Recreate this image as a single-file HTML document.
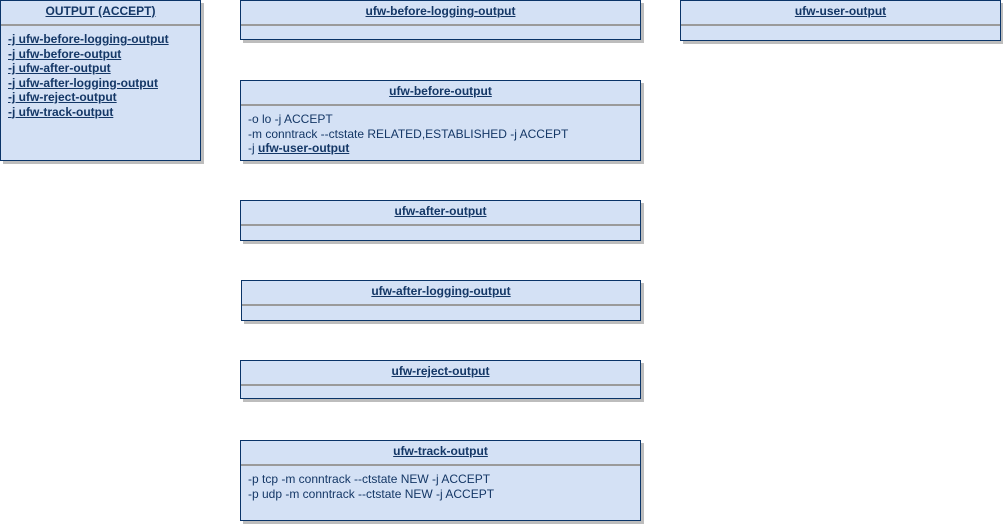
<!DOCTYPE html>
<html><head><meta charset="utf-8"><style>
html,body{margin:0;padding:0;background:#fff;}
body{width:1003px;height:524px;position:relative;overflow:hidden;font-family:"Liberation Sans",Arial,sans-serif;font-size:12px;color:#143766;}
.b{position:absolute;box-sizing:border-box;background:#d4e1f5;border:1.5px solid #0a3468;box-shadow:3px 3px 0 #bdbdbd;}
.h{height:25px;border-bottom:2px solid #9a9a9a;text-align:center;font-weight:bold;text-decoration:underline;line-height:20px;box-sizing:border-box;}
.c{padding:6px 0 0 7px;line-height:14.5px;}
.u{font-weight:bold;text-decoration:underline;}
</style></head><body>
<div class="b" style="left:0;top:0;width:201px;height:161px">
<div class="h">OUTPUT (ACCEPT)</div>
<div class="c u">-j ufw-before-logging-output<br>-j ufw-before-output<br>-j ufw-after-output<br>-j ufw-after-logging-output<br>-j ufw-reject-output<br>-j ufw-track-output</div>
</div>
<div class="b" style="left:240px;top:0;width:401px;height:40px"><div class="h">ufw-before-logging-output</div></div>
<div class="b" style="left:680px;top:0;width:321px;height:41px"><div class="h">ufw-user-output</div></div>
<div class="b" style="left:240px;top:80px;width:401px;height:81px">
<div class="h">ufw-before-output</div>
<div class="c">-o lo -j ACCEPT<br>-m conntrack --ctstate RELATED,ESTABLISHED -j ACCEPT<br>-j <span class="u">ufw-user-output</span></div>
</div>
<div class="b" style="left:240px;top:200px;width:401px;height:41px"><div class="h">ufw-after-output</div></div>
<div class="b" style="left:241px;top:280px;width:400px;height:41px"><div class="h">ufw-after-logging-output</div></div>
<div class="b" style="left:240px;top:360px;width:401px;height:39px"><div class="h">ufw-reject-output</div></div>
<div class="b" style="left:240px;top:440px;width:401px;height:81px">
<div class="h">ufw-track-output</div>
<div class="c">-p tcp -m conntrack --ctstate NEW -j ACCEPT<br>-p udp -m conntrack --ctstate NEW -j ACCEPT</div>
</div>
</body></html>
